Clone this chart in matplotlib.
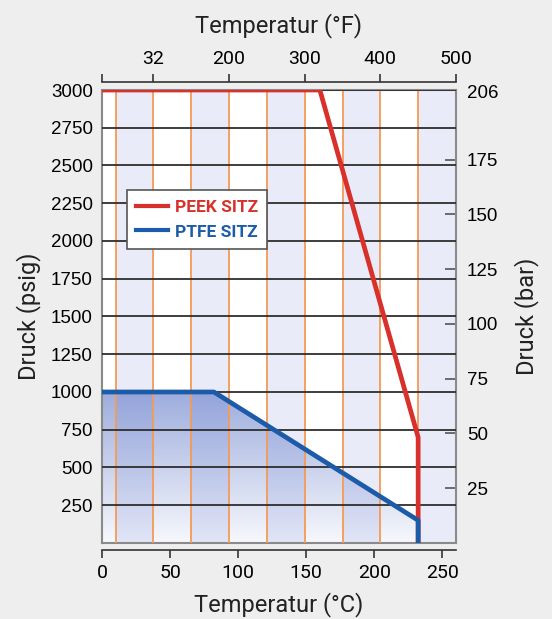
import numpy as np
import matplotlib
matplotlib.use('Agg')
import matplotlib.pyplot as plt
from matplotlib.patches import Polygon
from matplotlib.lines import Line2D

# pressure/temperature ratings (temperature in degC, pressure in psig)
peek_temp = [0, 160, 232.2, 232.2]
peek_psig = [3000, 3000, 700, 0]
ptfe_temp = [0, 82.2, 232.2, 232.2]
ptfe_psig = [1000, 1000, 150, 0]

psig_ticks = [250, 500, 750, 1000, 1250, 1500, 1750, 2000, 2250, 2500, 2750, 3000]
bar_ticks = [25, 50, 75, 100, 125, 150, 175, 206]
c_ticks = [0, 50, 100, 150, 200, 250]
f_ticks = [32, 100, 200, 300, 400, 500]
f_labels = ['', '32', '200', '300', '400', '500']
f_grid = [50, 100, 150, 200, 250, 300, 350, 400, 450]

red = '#d8302a'
blue = '#1b5ba8'
lavender = '#e9ebf9'
bg = '#eeeeee'

c2f = lambda c: c * 9 / 5 + 32
f2c = lambda f: (np.asarray(f) - 32) * 5 / 9
psi2bar = lambda p: np.asarray(p) / 14.5038
bar2psi = lambda b: np.asarray(b) * 14.5038

fig = plt.figure(figsize=(5.52, 6.19), dpi=100, facecolor=bg)
ax = fig.add_axes([0.1848, 0.1228, 0.6413, 0.7318])
ax.set_facecolor('white')

# alternating column bands every 50 F
edges = [32] + f_grid + [500]
for i in range(len(edges) - 1):
    if i % 2 == 1:
        ax.axvspan(f2c(edges[i]), f2c(edges[i + 1]), color=lavender, lw=0, zorder=0)

# gradient fill under the PTFE curve
grad = np.linspace(0, 1, 256).reshape(-1, 1)
rgba = np.zeros((256, 1, 4))
rgba[..., 0] = 0.36
rgba[..., 1] = 0.46
rgba[..., 2] = 0.78
rgba[..., 3] = 0.05 + 0.55 * grad
im = ax.imshow(rgba, extent=[0, max(ptfe_temp), 0, max(ptfe_psig)], origin='lower',
               aspect='auto', zorder=1, interpolation='bilinear')
poly = Polygon(list(zip([0] + ptfe_temp, [0] + ptfe_psig)), closed=True,
               facecolor='none', edgecolor='none', transform=ax.transData)
ax.add_patch(poly)
im.set_clip_path(poly)
ax.set_xlim(0, f2c(500))
ax.set_ylim(0, 3000)

# grid lines
ax.set_xticks(f2c(f_grid), minor=True)
ax.set_xticks([])
ax.set_yticks(psig_ticks)
ax.grid(True, which='minor', axis='x', color='#f59a55', lw=1.3, zorder=2)
ax.grid(True, which='major', axis='y', color='#2e2e2e', lw=1.3, zorder=2)
ax.set_axisbelow(False)
ax.tick_params(axis='x', which='both', length=0, labelbottom=False)
ax.tick_params(axis='y', length=0, pad=6.5, labelsize=13.5)
for lab in ax.get_yticklabels():
    lab.set_fontfamily('Liberation Sans')
for s in ax.spines.values():
    s.set_color('#8a8a8a')
    s.set_linewidth(1.5)

ax.plot(peek_temp, peek_psig, color=red, lw=3.4, zorder=4, solid_capstyle='butt')
ax.plot(ptfe_temp, ptfe_psig, color=blue, lw=3.4, zorder=5, solid_capstyle='butt')

# bottom (C) axis
axc = ax.secondary_xaxis(-0.0155)
axc.set_xticks(c_ticks)
axc.tick_params(direction='out', length=6, width=1.2, color='#333333', labelsize=14, pad=4)
axc.spines['bottom'].set_color('#333333')
axc.spines['bottom'].set_linewidth(1.2)
for lab in axc.get_xticklabels():
    lab.set_fontfamily('Roboto')
axc.set_xlabel('Temperatur (°C)', fontsize=17, fontfamily='Roboto', color='#222222', labelpad=7)

# top (F) axis
axf = ax.secondary_xaxis(1.0177, functions=(c2f, lambda f: (f - 32) * 5 / 9))
axf.set_xticks(f_ticks, f_labels)
axf.tick_params(direction='out', length=6, width=1.2, color='#333333', labelsize=14, pad=4)
axf.spines['top'].set_color('#333333')
axf.spines['top'].set_linewidth(1.2)
for lab in axf.get_xticklabels():
    lab.set_fontfamily('Roboto')
axf.set_xlabel('Temperatur (°F)', fontsize=17, fontfamily='Roboto', color='#222222', labelpad=13)

# right (bar) axis
axb = ax.secondary_yaxis('right', functions=(psi2bar, bar2psi))
axb.set_yticks(bar_ticks)
axb.tick_params(direction='in', length=8, width=1.2, color='#555555', labelsize=13.5, pad=8)
axb.spines['right'].set_visible(False)
for lab in axb.get_yticklabels():
    lab.set_fontfamily('Liberation Sans')
t = axb.yaxis.get_major_ticks()[-1]
t.tick1line.set_visible(False)
t.tick2line.set_visible(False)
axb.set_ylabel('Druck (bar)', fontsize=17, fontfamily='Roboto', color='#222222', labelpad=11)

ax.set_ylabel('Druck (psig)', fontsize=17, fontfamily='Roboto', color='#222222', labelpad=7)

handles = [Line2D([], [], color=red, lw=3), Line2D([], [], color=blue, lw=3)]
leg = ax.legend(handles, ['PEEK SITZ', 'PTFE SITZ'], loc='upper left',
                bbox_to_anchor=(0.07, 0.779), borderaxespad=0, fancybox=False, framealpha=1,
                edgecolor='#555555', handlelength=1.8, handletextpad=0.4, borderpad=0.55,
                labelspacing=0.55,
                prop={'family': 'Roboto', 'weight': 'bold', 'size': 12.5})
leg.get_frame().set_linewidth(1.2)
leg.set_zorder(10)
for txt, c in zip(leg.get_texts(), [red, blue]):
    txt.set_color(c)

fig.savefig('out.png', dpi=100, facecolor=bg)
